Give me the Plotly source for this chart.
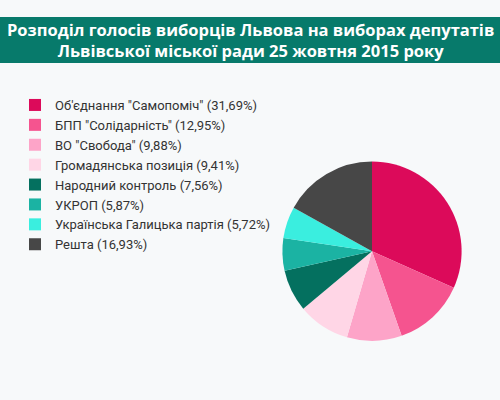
import plotly.graph_objects as go

# результати виборів до Львівської міської ради, 2015
parties = [
    "Об'єднання \"Самопоміч\"",
    "БПП \"Солідарність\"",
    "ВО \"Свобода\"",
    "Громадянська позиція",
    "Народний контроль",
    "УКРОП",
    "Українська Галицька партія",
    "Решта",
]
share_labels = ["31,69%", "12,95%", "9,88%", "9,41%", "7,56%", "5,87%", "5,72%", "16,93%"]
shares = [31.69, 12.95, 9.88, 9.41, 7.56, 5.87, 5.72, 16.93]
colors = ["#dc0a5a", "#f5548f", "#fda4c8", "#ffd6e6",
          "#04705f", "#1bb3a3", "#3aeedf", "#474747"]

title = ("Розподіл голосів виборців Львова на виборах депутатів<br>"
         "Львівської міської ради 25 жовтня 2015 року")

labels = [f"{p} ({s})" for p, s in zip(parties, share_labels)]

fig = go.Figure(go.Pie(
    labels=labels,
    values=shares,
    sort=False,
    direction="clockwise",
    rotation=0,
    textinfo="none",
    hoverinfo="label",
    marker=dict(colors=colors, line=dict(width=0)),
    domain=dict(x=[0.564, 0.924], y=[0.148, 0.596]),
))

# зелена смуга під заголовком
fig.add_shape(type="rect", xref="paper", yref="paper",
              x0=0, x1=1, y0=1 - 63 / 400, y1=1 - 17 / 400,
              fillcolor="#077a6b", line=dict(width=0), layer="below")

fig.add_annotation(text=title, xref="paper", yref="paper", x=0.5, y=1 - 40 / 400,
                   xanchor="center", yanchor="middle", showarrow=False,
                   font=dict(family="Open Sans", size=16.5, color="white", weight="bold"))

fig.update_layout(
    width=500, height=400,
    margin=dict(l=0, r=0, t=0, b=0),
    paper_bgcolor="#f7f9fa",
    plot_bgcolor="#f7f9fa",
    showlegend=True,
    legend=dict(x=0.03, y=1 - 90 / 400, xanchor="left", yanchor="top",
                font=dict(family="Roboto", size=13, color="#333333"),
                bgcolor="rgba(0,0,0,0)", traceorder="normal"),
)

# прибрати відступ body, щоб графік стояв у куті вікна
fig.write_html("out.html", config={"displayModeBar": False},
               post_script="document.body.style.margin='0';")
